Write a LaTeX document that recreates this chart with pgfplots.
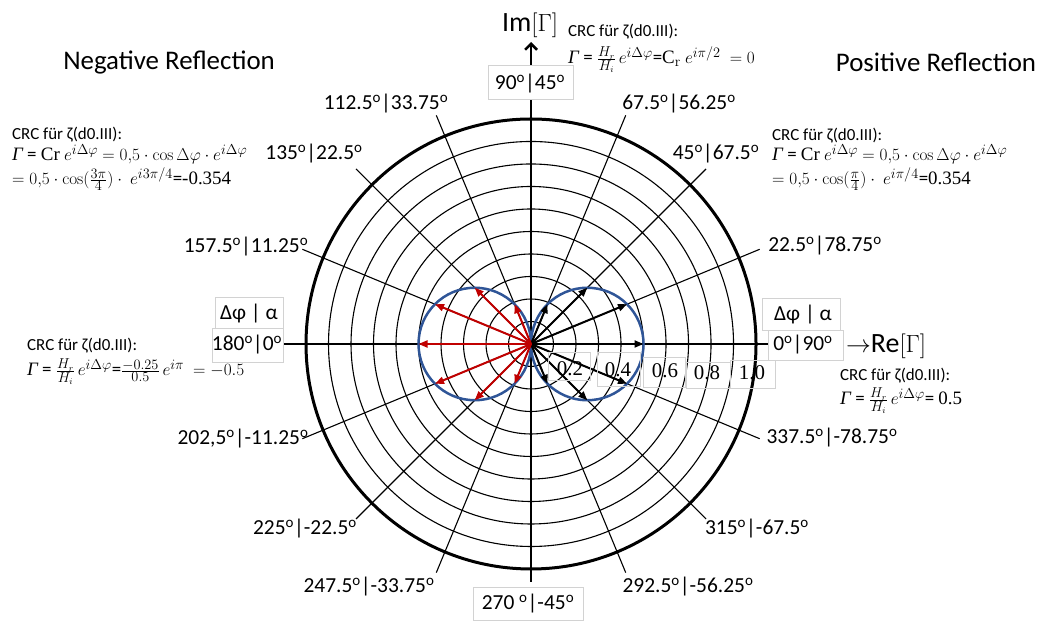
\documentclass[border=0pt]{standalone}
\usepackage[no-math]{fontspec}
\setmainfont{Carlito}
\newfontfamily\serif{Liberation Serif}
\usepackage{pgfplots}
\usepackage{pgfplotstable}
\pgfplotsset{compat=1.18}
\usetikzlibrary{arrows.meta}
\definecolor{cblue}{RGB}{47,85,151}
\definecolor{cred}{RGB}{192,0,0}
\newcommand{\dg}{\textsuperscript{o}}
\newcommand{\G}{{\serif\itshape Γ}}

% positive reflection vectors (Delta phi = 0, +-22.5, +-45, +-67.5 deg), Gamma = 0.5 cos(dphi) e^{i dphi}
\pgfplotstableread{
x y u v
0 0 0.5    0
0 0 0.4268 0.1768
0 0 0.4268 -0.1768
0 0 0.25   0.25
0 0 0.25   -0.25
0 0 0.0732 0.1768
0 0 0.0732 -0.1768
}\blackvec
% negative reflection vectors
\pgfplotstableread{
x y u v
0 0 -0.5    0
0 0 -0.4268 0.1768
0 0 -0.4268 -0.1768
0 0 -0.25   0.25
0 0 -0.25   -0.25
0 0 -0.0732 0.1768
0 0 -0.0732 -0.1768
}\redvec

\begin{document}
\begin{tikzpicture}[x=1bp,y=1bp]
\begin{axis}[at={(0,0)}, anchor=south west, scale only axis,
  width=1041bp, height=621bp,
  xmin=-2.36, xmax=2.266667, ymin=-1.231111, ymax=1.528889,
  hide axis, clip=false]
% grid circles
\pgfplotsinvokeforeach{1,2,3,4,5,6,7,8,9}{
  \draw[line width=1.1bp] (axis cs:0,0) circle[radius=#1*22.5bp];
}
\draw[line width=3bp] (axis cs:0,0) circle[radius=225bp];
% radial lines
\pgfplotsinvokeforeach{22.5,45,67.5,112.5,135,157.5,202.5,225,247.5,292.5,315,337.5}{
  \draw[line width=1.1bp] (axis cs:0,0) -- ++(#1:247.5bp);
}
% axes
\draw[line width=2.5bp] (axis cs:-1.1022,0) -- (axis cs:1.0533,0);
\draw[line width=2.5bp] (axis cs:0,1.0889) -- (axis cs:0,-1.0578);
\draw[line width=2.5bp, -{Straight Barb[length=6bp,width=12bp]}] (axis cs:0,1.24) -- (axis cs:0,1.3422);
% ticks
\pgfplotsinvokeforeach{0.1,0.2,0.3,0.4,0.5,0.6,0.7,0.8,0.9}{
  \draw[line width=1.2bp] (axis cs:#1,0) ++(0,3bp) -- ++(0,-13bp);
}
\draw[line width=3bp] (axis cs:1,0) ++(0,9bp) -- ++(0,-18bp);
% blue circles
\draw[cblue, line width=2.5bp] (axis cs:0.25,0) circle[radius=56.25bp];
\draw[cblue, line width=2.5bp] (axis cs:-0.25,0) circle[radius=56.25bp];
% vectors
\addplot[quiver={u=\thisrow{u},v=\thisrow{v}}, black, line width=2bp,
  -{Triangle[length=9bp,width=7bp]}] table[x=x,y=y] {\blackvec};
\addplot[quiver={u=\thisrow{u},v=\thisrow{v}}, cred, line width=2bp,
  -{Triangle[length=9bp,width=7bp]}] table[x=x,y=y] {\redvec};
\end{axis}

\tikzset{lab/.style={font=\fontsize{21.5}{25}\selectfont, inner sep=0pt, anchor=base},
  crc/.style={font=\fontsize{17}{20}\selectfont, inner sep=0pt, anchor=base west},
  eq/.style={font=\fontsize{19}{22}\selectfont, inner sep=0pt, anchor=base west},
  tl/.style={font=\serif\fontsize{21}{24}\selectfont, inner sep=0pt, anchor=base},
  bx/.style={draw=gray!35, line width=0.8bp}}

% degree labels
\node[lab] at (386,621-110) {112.5\dg|33.75\dg};
\node[lab] at (679,621-110) {67.5\dg|56.25\dg};
\node[lab] at (314,621-160) {135\dg|22.5\dg};
\node[lab] at (716,621-160) {45\dg|67.5\dg};
\node[lab] at (246,621-253) {157.5\dg|11.25\dg};
\node[lab] at (825,621-252) {22.5\dg|78.75\dg};
\node[lab] at (243,621-445) {202,5\dg|-11.25\dg};
\node[lab] at (832,621-444) {337.5\dg|-78.75\dg};
\node[lab] at (305,621-535) {225\dg|-22.5\dg};
\node[lab] at (757,621-535) {315\dg|-67.5\dg};
\node[lab] at (369,621-593) {247.5\dg|-33.75\dg};
\node[lab] at (688,621-593) {292.5\dg|-56.25\dg};

% boxed axis labels
\draw[bx, fill=white] (488,621-65) rectangle (573,621-99);
\node[lab] at (530,621-90) {90\dg|45\dg};
\draw[bx, fill=white] (473,621-587) rectangle (583,621-620);
\node[lab] at (528,621-610) {270 \dg|-45\dg};
\draw[bx, fill=white] (215,621-297) rectangle (283,621-328);
\node[lab] at (249,621-320) {Δφ | α};
\draw[bx, fill=white] (212,621-328) rectangle (283,621-362);
\node[lab] at (247,621-351) {180\dg|0\dg};
\draw[bx, fill=white] (762,621-298) rectangle (840,621-330);
\node[lab] at (803,621-321) {Δφ | α};
\draw[bx, fill=white] (768,621-330) rectangle (843,621-360);
\node[lab] at (803,621-351) {0\dg|90\dg};

% axis names
\node[font=\fontsize{28}{30}\selectfont, inner sep=0pt, anchor=base] at (530,621-32) {Im$[\Gamma]$};
\node[font=\fontsize{28}{30}\selectfont, inner sep=0pt, anchor=base west] at (846,621-353) {$\rightarrow$Re$[\Gamma]$};

% titles
\node[font=\fontsize{27}{30}\selectfont, inner sep=0pt, anchor=base] at (169,621-70) {Negative Reflection};
\node[font=\fontsize{27}{30}\selectfont, inner sep=0pt, anchor=base] at (936,621-72) {Positive Reflection};

% tick label boxes
\draw[bx] (548,621-352) rectangle (590,621-380);
\node[tl] at (570,621-376) {0.2};
\draw[bx] (597,621-352) rectangle (640,621-386);
\node[tl] at (618,621-377) {0.4};
\draw[bx] (643,621-357) rectangle (685,621-387);
\node[tl] at (665,621-378) {0.6};
\draw[bx] (686,621-362) rectangle (730,621-388);
\node[tl] at (707,621-380) {0.8};
\draw[bx] (730,621-360) rectangle (775,621-388);
\node[tl] at (752,621-380) {1.0};

% CRC blocks
\node[crc] at (12,621-140) {CRC für ζ(d0.III):};
\node[eq] at (12,621-161) {\G\ = {\serif Cr} $e^{i\Delta\varphi}$ $=0{,}5\cdot\cos\Delta\varphi\cdot e^{i\Delta\varphi}$};
\node[eq] at (12,621-185) {$=0{,}5\cdot\cos(\frac{3\pi}{4})\cdot\ e^{i3\pi/4}$={\serif -0.354}};

\node[crc] at (568,621-37) {CRC für ζ(d0.III):};
\node[eq] at (568,621-64) {\G\ = $\frac{H_r}{H_i}\,e^{i\Delta\varphi}$={\serif C}$_{\mathrm{r}}$ $e^{i\pi/2}\ =0$};

\node[crc] at (772,621-141) {CRC für ζ(d0.III):};
\node[eq] at (772,621-161) {\G\ = {\serif Cr} $e^{i\Delta\varphi}$ $=0{,}5\cdot\cos\Delta\varphi\cdot e^{i\Delta\varphi}$};
\node[eq] at (772,621-185) {$=0{,}5\cdot\cos(\frac{\pi}{4})\cdot\ e^{i\pi/4}$={\serif 0.354}};

\node[crc] at (27,621-351) {CRC für ζ(d0.III):};
\node[eq] at (27,621-376) {\G\ = $\frac{H_r}{H_i}\,e^{i\Delta\varphi}$=$\frac{-0.25}{0.5}\,e^{i\pi}\ =-0.5$};

\node[crc] at (840,621-381) {CRC für ζ(d0.III):};
\node[eq] at (840,621-405) {\G\ = $\frac{H_r}{H_i}\,e^{i\Delta\varphi}$= {\serif 0.5}};

\pgfresetboundingbox
\path (0,0) rectangle (1041,621);
\end{tikzpicture}
\end{document}
